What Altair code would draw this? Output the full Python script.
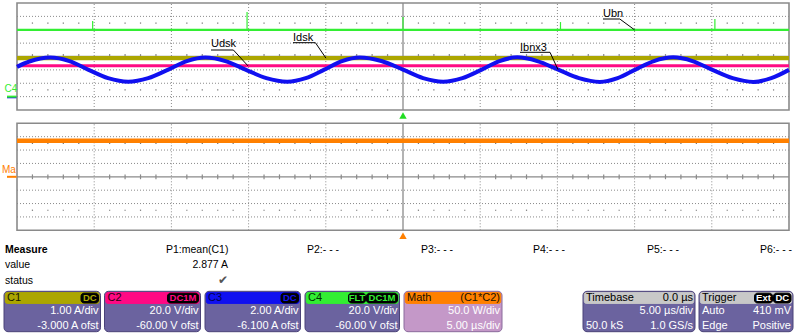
import altair as alt
import pandas as pd

T_MIN, T_MAX = -25.0, 25.0            # 5.00 us/div, 10 div, trigger at 0.0 us

ch_names      = ["C1", "C2", "C3", "C4"]
ch_colors     = ["#aca600", "#ff0a84", "#1010f0", "#33ee33"]
ch_head_text  = ["#1a1a00", "#2a0010", "#000050", "#003300"]
ch_per_div    = [1.00, 20.0, 2.00, 20.0]
ch_ofst       = [-3.000, -60.00, -6.100, -60.00]
ch_coupling   = [["DC"], ["DC1M"], ["DC"], ["FLT", "DC1M"]]
ch_perdiv_txt = ["1.00 A/div", "20.0 V/div", "2.00 A/div", "20.0 V/div"]
ch_ofst_txt   = ["-3.000 A ofst", "-60.00 V ofst", "-6.100 A ofst", "-60.00 V ofst"]

c1_level = 2.877                      # A  (P1: mean(C1))
c2_level = 46.0                       # V
c4_level = 99.8                       # V
c4_spike_t = [-20.1, -10.1, 0.0, 10.2, 20.2]
c4_spike_v = [113.0, 126.5, 119.0, 111.5, 116.0]

c3_t = [-25.0, -24.2, -22.85, -21.6, -20.4, -19.1, -17.8, -16.5, -15.2, -14.0,
        -12.8, -11.5, -10.2, -8.85, -7.5, -6.3, -5.1, -3.95, -2.8, -1.4,
        0.0, 1.3, 2.6, 3.85, 5.1, 6.25, 7.4, 8.7, 10.05, 11.4,
        12.75, 13.9, 15.05, 16.25, 17.5, 18.75, 20.0, 21.35, 22.7, 23.85, 25.0]
c3_a = [4.55, 5.35, 5.95, 5.42, 4.14, 2.86, 2.33, 2.86, 4.14, 5.42,
        5.95, 5.42, 4.14, 2.86, 2.33, 2.86, 4.14, 5.42, 5.95, 5.42,
        4.14, 2.86, 2.33, 2.86, 4.14, 5.42, 5.97, 5.42, 4.14, 2.86,
        2.30, 2.86, 4.14, 5.42, 5.97, 5.42, 4.14, 2.86, 2.30, 2.86, 4.10]

math_color    = "#ff8000"
math_level    = 135.0                 # W  (C1*C2)
math_per_div  = 50.0
math_ofst     = 0.0

labels        = ["Udsk", "Idsk", "Ubn", "Ibnx3"]
label_target  = ["C2", "C1", "C4", "C3"]
label_target_t = [-10.04, -4.99, 15.0, 10.04]

measure_rows  = ["Measure", "value", "status"]
p_labels      = ["P1:mean(C1)", "P2:- - -", "P3:- - -", "P4:- - -", "P5:- - -", "P6:- - -"]
p1_value      = "2.877 A"

math_head     = ["Math", "(C1*C2)"]
math_body     = ["50.0 W/div", "5.00 \u00b5s/div"]
tb_head       = ["Timebase", "0.0 \u00b5s"]
tb_body       = ["5.00 \u00b5s/div", "50.0 kS", "1.0 GS/s"]
trig_head     = ["Trigger", "Ext", "DC"]
trig_body     = ["Auto", "410 mV", "Edge", "Positive"]

# ---------------- layout (pixels) ----------------
W, H = 800, 334
PX_L, PX_R = 17.0, 789.0
TOP_PANEL = (3.0, 110.0)
BOT_PANEL = (123.3, 230.3)
GRID = "#8a8a8a"
FONT = "Liberation Sans"
BODY = "#6b639f"
BODY_BORDER = "#4a4278"
MATH_BODY = "#c498c8"
MATH_BORDER = "#8a6a9c"
HEAD_GRAY = "#c8c8c8"

BOX_Y0, BOX_Y1 = 291.3, 331.7
HEAD_Y0, HEAD_Y1 = 292.6, 303.4
ch_box_x = [(4.0, 100.5), (104.5, 200.5), (205.0, 300.5), (305.0, 399.5)]
math_box_x = (404.0, 502.0)
tb_box_x = (583.0, 695.0)
trig_box_x = (699.0, 793.0)
p_label_x = [166, 307, 421, 533, 647, 760]


def sx():
    return alt.Scale(domain=[T_MIN, T_MAX], range=[PX_L, PX_R], nice=False, zero=False)


def sy(panel):
    return alt.Scale(domain=[-4, 4], range=[panel[1], panel[0]], nice=False, zero=False)


def X(f="t"):
    return alt.X(f"{f}:Q", scale=sx(), axis=None)


def Y(f, panel):
    return alt.Y(f"{f}:Q", scale=sy(panel), axis=None)


PXS = alt.Scale(domain=[0, W], range=[0, W], nice=False, zero=False)
PYS = alt.Scale(domain=[0, H], range=[0, H], nice=False, zero=False)


def PX(f="x"):
    return alt.X(f"{f}:Q", scale=PXS, axis=None)


def PY(f="y"):
    return alt.Y(f"{f}:Q", scale=PYS, axis=None)


def to_div(v, ch):
    i = ch_names.index(ch)
    return (v + ch_ofst[i]) / ch_per_div[i]


def t_to_px(t):
    return PX_L + (t - T_MIN) / (T_MAX - T_MIN) * (PX_R - PX_L)


def d_to_px(d, panel):
    top, bot = panel
    return bot - (d + 4) / 8 * (bot - top)


layers = []

# ---------------- graticule ----------------
def grid_layers(panel):
    out = []
    vt = [k * 5.0 for k in range(-4, 5) if k != 0]
    out.append(alt.Chart(pd.DataFrame({"t": vt, "d": -4.0, "d2": 4.0}))
               .mark_rule(color=GRID, strokeWidth=1, strokeDash=[1, 2])
               .encode(x=X(), y=Y("d", panel), y2="d2"))
    hd = [float(d) for d in range(-3, 4) if d != 0]
    out.append(alt.Chart(pd.DataFrame({"d": hd, "t": T_MIN, "t2": T_MAX}))
               .mark_rule(color=GRID, strokeWidth=1, strokeDash=[1, 2])
               .encode(x=X(), x2="t2", y=Y("d", panel)))
    minor_t = [float(k) for k in range(-24, 25) if k % 5 != 0]
    dots = pd.DataFrame({"t": minor_t * 2, "d": [2.5] * len(minor_t) + [-2.5] * len(minor_t)})
    out.append(alt.Chart(dots).mark_square(size=1.5, color="#777777", opacity=1)
               .encode(x=X(), y=Y("d", panel)))
    out.append(alt.Chart(pd.DataFrame({"t": minor_t, "d": -0.18, "d2": 0.18}))
               .mark_rule(color=GRID, strokeWidth=1.2)
               .encode(x=X(), y=Y("d", panel), y2="d2"))
    centre = pd.DataFrame({"t": [0.0, T_MIN], "t2": [0.0, T_MAX], "d": [-4.0, 0.0], "d2": [4.0, 0.0]})
    out.append(alt.Chart(centre).mark_rule(color=GRID, strokeWidth=1.3)
               .encode(x=X(), x2="t2", y=Y("d", panel), y2="d2"))
    out.append(alt.Chart(pd.DataFrame({"t": [T_MIN], "t2": [T_MAX], "d": [-4.0], "d2": [4.0]}))
               .mark_rect(fill="transparent", stroke=GRID, strokeWidth=1.6)
               .encode(x=X(), x2="t2", y=Y("d", panel), y2="d2"))
    return out


layers += grid_layers(TOP_PANEL)
layers += grid_layers(BOT_PANEL)

# ---------------- traces ----------------
def level_df(v, ch):
    return pd.DataFrame({"t": [T_MIN, T_MAX], "d": [to_div(v, ch)] * 2})


layers.append(alt.Chart(level_df(c2_level, "C2")).mark_line(color=ch_colors[1], strokeWidth=3)
              .encode(x=X(), y=Y("d", TOP_PANEL)))
layers.append(alt.Chart(level_df(c1_level, "C1")).mark_line(color=ch_colors[0], strokeWidth=4.2,
                                                            opacity=1)
              .encode(x=X(), y=Y("d", TOP_PANEL)))
c3 = pd.DataFrame({"t": c3_t, "d": [to_div(a, "C3") for a in c3_a]})
layers.append(alt.Chart(c3).mark_line(color=ch_colors[2], strokeWidth=4, interpolate="monotone")
              .encode(x=X(), y=Y("d", TOP_PANEL)))
layers.append(alt.Chart(level_df(c4_level, "C4")).mark_line(color=ch_colors[3], strokeWidth=2.4)
              .encode(x=X(), y=Y("d", TOP_PANEL)))
spk = pd.DataFrame({"t": c4_spike_t, "d": to_div(c4_level, "C4"),
                    "d2": [to_div(v, "C4") for v in c4_spike_v]})
layers.append(alt.Chart(spk).mark_rule(color=ch_colors[3], strokeWidth=1.2)
              .encode(x=X(), y=Y("d", TOP_PANEL), y2="d2"))

math_df = pd.DataFrame({"t": [T_MIN, T_MAX], "d": [(math_level + math_ofst) / math_per_div] * 2})
layers.append(alt.Chart(math_df).mark_line(color=math_color, strokeWidth=4.6)
              .encode(x=X(), y=Y("d", BOT_PANEL)))

# ground markers and channel tags on the left
for d, c in [(to_div(0, "C3"), ch_colors[2]), (to_div(0, "C4"), ch_colors[3])]:
    layers.append(alt.Chart(pd.DataFrame({"d": [d]})).mark_rule(color=c, strokeWidth=2)
                  .encode(x=alt.value(7), x2=alt.value(16.5), y=Y("d", TOP_PANEL)))
layers.append(alt.Chart(pd.DataFrame({"d": [to_div(0, "C4")], "s": ["C4"]}))
              .mark_text(align="left", baseline="middle", dy=-7.5, fontSize=10, font=FONT,
                         color=ch_colors[3])
              .encode(x=alt.value(4.5), y=Y("d", TOP_PANEL), text="s:N"))
layers.append(alt.Chart(pd.DataFrame({"d": [math_ofst / math_per_div]}))
              .mark_rule(color=math_color, strokeWidth=2)
              .encode(x=alt.value(7), x2=alt.value(16.5), y=Y("d", BOT_PANEL)))
layers.append(alt.Chart(pd.DataFrame({"d": [math_ofst / math_per_div], "s": ["Ma"]}))
              .mark_text(align="left", baseline="middle", dy=-7, fontSize=10, font=FONT, color=math_color)
              .encode(x=alt.value(2), y=Y("d", BOT_PANEL), text="s:N"))

# trigger markers
layers.append(alt.Chart(pd.DataFrame({"t": [0.0]}))
              .mark_point(shape="triangle-up", filled=True, size=55, color="#22dd22", opacity=1)
              .encode(x=X(), y=alt.value(115.5)))
layers.append(alt.Chart(pd.DataFrame({"t": [0.0]}))
              .mark_point(shape="triangle-up", filled=True, size=55, color=math_color, opacity=1)
              .encode(x=X(), y=alt.value(235.8)))

# ---------------- trace annotations ----------------
label_xy = {"Udsk": (211, 43.5, 50.0), "Idsk": (293, 37.5, 42.7),
            "Ubn": (603, 13.5, 19.0), "Ibnx3": (520, 47.5, 52.3)}
target_div = {"C1": to_div(c1_level, "C1"), "C2": to_div(c2_level, "C2"),
              "C4": to_div(c4_level, "C4"), "C3": to_div(4.14, "C3")}
ann_lines = []
ann_text = []
for lab, ch, tt in zip(labels, label_target, label_target_t):
    lx, ly, uy = label_xy[lab]
    width = 5.6 * len(lab) + (2 if lab == "Ibnx3" else 0)
    ux1 = lx + width
    ann_text.append({"x": lx, "y": ly, "text": lab})
    ann_lines.append({"x": lx, "y": uy, "x2": ux1, "y2": uy})
    ann_lines.append({"x": ux1, "y": uy, "x2": t_to_px(tt), "y2": d_to_px(target_div[ch], TOP_PANEL)})
layers.append(alt.Chart(pd.DataFrame(ann_lines)).mark_rule(color="#000000", strokeWidth=1)
              .encode(x=PX(), x2="x2", y=PY(), y2="y2"))
layers.append(alt.Chart(pd.DataFrame(ann_text))
              .mark_text(align="left", baseline="middle", fontSize=11, font=FONT, color="#000000")
              .encode(x=PX(), y=PY(), text="text:N"))

# ---------------- status boxes ----------------
rects = []
texts = []


def R(x0, x1, y0, y1, fill, z, stroke=None, r=0):
    rects.append({"x": x0, "x2": x1, "y": y0, "y2": y1, "fill": fill,
                  "stroke": stroke if stroke else fill, "r": r, "z": z})


def T(x, y, s, color="#000000", align="left", size=11, weight="normal", font=FONT):
    texts.append({"x": x, "y": y, "text": s, "color": color, "align": align,
                  "size": size, "weight": weight, "font": font})


def badges(x1, names, text_color):
    widths = {"DC": 17.5, "DC1M": 31.0, "FLT": 17.0, "Ext": 18.0}
    right = x1 - 2.0
    for nm in reversed(names):
        w = widths[nm]
        R(right - w, right, HEAD_Y0 + 0.6, HEAD_Y1 - 0.4, "#000000", 2, r=3)
        T(right - w / 2, (HEAD_Y0 + HEAD_Y1) / 2 + 0.3, nm, text_color, "center", 9.5, "bold")
        right -= w + 1.0


LINE1, LINE2 = 311.3, 325.7
HEAD_MID = (HEAD_Y0 + HEAD_Y1) / 2

for i, ch in enumerate(ch_names):
    x0, x1 = ch_box_x[i]
    R(x0, x1, BOX_Y0, BOX_Y1, BODY, 0, BODY_BORDER, 4)
    R(x0 + 1.3, x1 - 1.3, HEAD_Y0, HEAD_Y1, ch_colors[i], 1, r=2)
    T(x0 + 3, HEAD_MID, ch, ch_head_text[i])
    badges(x1, ch_coupling[i], ch_colors[i])
    T(x1 - 2, LINE1, ch_perdiv_txt[i], "#ffffff", "right")
    T(x1 - 2, LINE2, ch_ofst_txt[i], "#ffffff", "right")

x0, x1 = math_box_x
R(x0, x1, BOX_Y0, BOX_Y1, MATH_BODY, 0, MATH_BORDER, 4)
R(x0 + 1.3, x1 - 1.3, HEAD_Y0, HEAD_Y1, math_color, 1, r=2)
T(x0 + 3, HEAD_MID, math_head[0], "#201000")
T(x1 - 2, HEAD_MID, math_head[1], "#201000", "right")
T(x1 - 2, LINE1, math_body[0], "#ffffff", "right")
T(x1 - 2, LINE2, math_body[1], "#ffffff", "right")

x0, x1 = tb_box_x
R(x0, x1, BOX_Y0, BOX_Y1, BODY, 0, BODY_BORDER, 4)
R(x0 + 1.3, x1 - 1.3, HEAD_Y0, HEAD_Y1, HEAD_GRAY, 1, r=2)
T(x0 + 3, HEAD_MID, tb_head[0])
T(x1 - 2, HEAD_MID, tb_head[1], "#000000", "right")
T(x1 - 2, LINE1, tb_body[0], "#ffffff", "right")
T(x0 + 3, LINE2, tb_body[1], "#ffffff")
T(x1 - 2, LINE2, tb_body[2], "#ffffff", "right")

x0, x1 = trig_box_x
R(x0, x1, BOX_Y0, BOX_Y1, BODY, 0, BODY_BORDER, 4)
R(x0 + 1.3, x1 - 1.3, HEAD_Y0, HEAD_Y1, HEAD_GRAY, 1, r=2)
T(x0 + 3, HEAD_MID, trig_head[0])
badges(x1, trig_head[1:], "#ffffff")
T(x0 + 3, LINE1, trig_body[0], "#ffffff")
T(x1 - 2, LINE1, trig_body[1], "#ffffff", "right")
T(x0 + 3, LINE2, trig_body[2], "#ffffff")
T(x1 - 2, LINE2, trig_body[3], "#ffffff", "right")

# measure table
T(5, 249.7, measure_rows[0], size=10.5, weight="bold")
T(5, 264.8, measure_rows[1], size=10.5)
T(5, 280.7, measure_rows[2], size=10.5)
for px_, lab in zip(p_label_x, p_labels):
    T(px_, 249.7, lab, size=10.5)
T(228, 264.8, p1_value, align="right", size=10.5)
T(228, 280.2, "\u2714", "#555555", "right", 12, "normal", "DejaVu Sans")

rdf = pd.DataFrame(rects)
for z in sorted(rdf["z"].unique()):
    sub = rdf[rdf["z"] == z]
    r = float(sub["r"].iloc[0])
    layers.append(alt.Chart(sub).mark_rect(cornerRadius=r, strokeWidth=1)
                  .encode(x=PX(), x2="x2", y=PY(), y2="y2",
                          fill=alt.Fill("fill:N", scale=None),
                          stroke=alt.Stroke("stroke:N", scale=None)))

tdf = pd.DataFrame(texts)
for (al, sz, wt, fn), sub in tdf.groupby(["align", "size", "weight", "font"]):
    layers.append(alt.Chart(sub).mark_text(align=al, baseline="middle", fontSize=float(sz),
                                           fontWeight=wt, font=fn)
                  .encode(x=PX(), y=PY(), text="text:N", color=alt.Color("color:N", scale=None)))

chart = (alt.layer(*layers)
         .resolve_scale(x="independent", y="independent")
         .properties(width=W, height=H, padding=0, background="#ffffff",
                     autosize=alt.AutoSizeParams(type="none"))
         .configure_view(stroke=None))

chart.save("out.html", embed_options={"renderer": "svg", "actions": False})
